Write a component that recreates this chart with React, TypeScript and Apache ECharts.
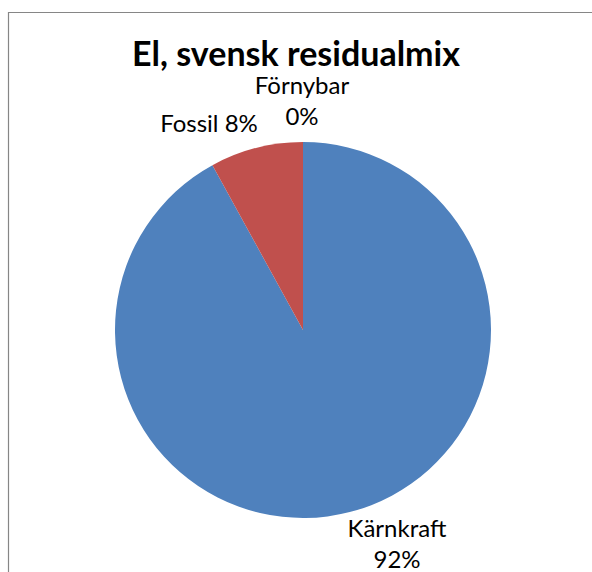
import React, { useEffect, useRef } from "react";
import * as echarts from "echarts";

const titleText = "El, svensk residualmix";
const categories = ["Kärnkraft", "Fossil", "Förnybar"];
const shares = [92, 8, 0];
const colors = ["#4F81BD", "#C0504D", "#9BBB59"];
const labelTemplates = ["{b}\n{d}%", "{b} {d}%", "{b}\n{d}%"];

// label anchor points (centre of each label block), by data index
const labelAnchors = [
  { x: 397, y: 543 },
  { x: 209, y: 122 },
  { x: 302, y: 100 },
];

const FONT = "Lato, 'Noto Sans', sans-serif";

export default function App() {
  const ref = useRef<HTMLDivElement>(null);
  useEffect(() => {
    if (!ref.current) return;
    const chart = echarts.init(ref.current, undefined, { renderer: "svg" });
    chart.setOption({
      animation: false,
      backgroundColor: "#ffffff",
      title: {
        text: titleText,
        left: "center",
        top: 37,
        padding: 0,
        textStyle: {
          fontFamily: FONT,
          fontWeight: "bold",
          fontSize: 34,
          lineHeight: 30,
          color: "#000000",
        },
      },
      graphic: [
        {
          type: "rect",
          shape: { x: 8.5, y: 12.5, width: 620, height: 600 },
          style: { fill: "none", stroke: "#868686", lineWidth: 1.2 },
          silent: true,
        },
      ],
      series: [
        {
          type: "pie",
          center: [303, 330],
          radius: [0, 188],
          startAngle: 90,
          clockwise: true,
          percentPrecision: 0,
          avoidLabelOverlap: false,
          data: categories.map((name, i) => ({
            name,
            value: shares[i],
            itemStyle: { color: colors[i] },
            label: { formatter: labelTemplates[i] },
          })),
          label: {
            show: true,
            position: "outside",
            fontFamily: FONT,
            fontSize: 24,
            lineHeight: 31,
            color: "#000000",
            align: "center",
          },
          labelLine: { show: false },
          labelLayout: (params: any) => {
            const a = labelAnchors[params.dataIndex];
            return { x: a.x, y: a.y, align: "center", verticalAlign: "middle" };
          },
        },
      ],
    });
    return () => chart.dispose();
  }, []);
  return (
    <div
      ref={ref}
      style={{ position: "fixed", left: 0, top: 0, width: 592, height: 572 }}
    />
  );
}
